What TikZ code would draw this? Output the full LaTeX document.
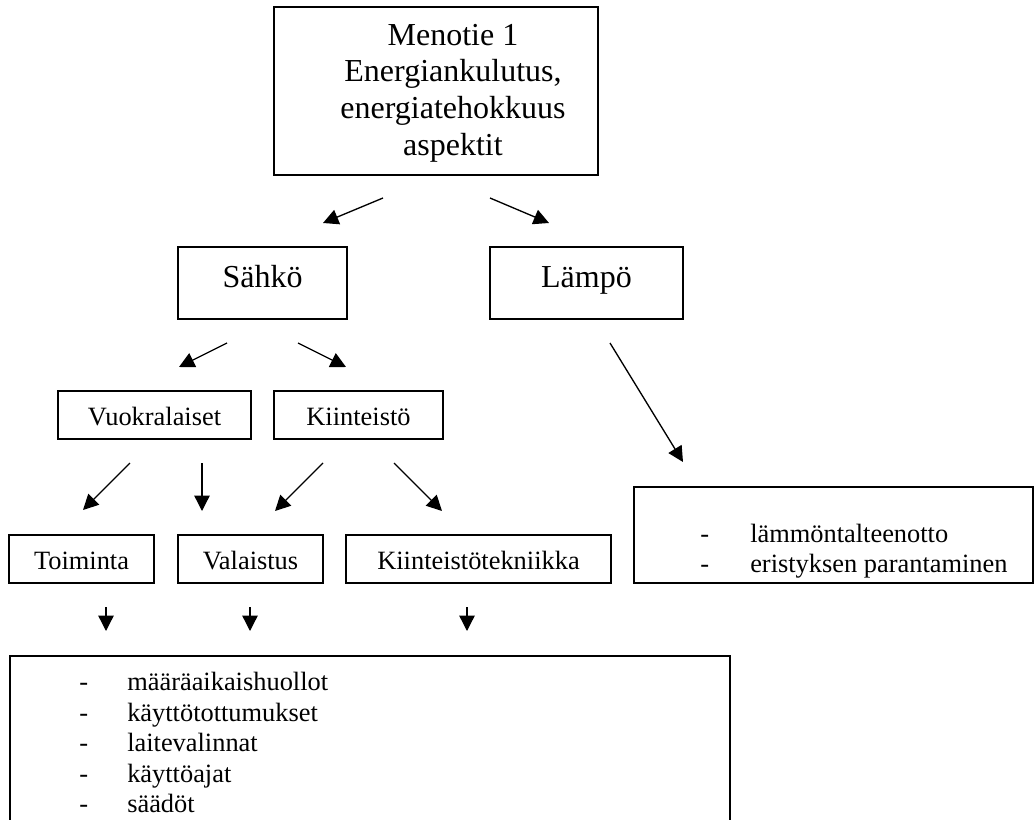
\documentclass[tikz,border=0pt]{standalone}
\usepackage{fontspec}
\setmainfont{Liberation Serif}
\usetikzlibrary{arrows.meta}
\begin{document}
\begin{tikzpicture}[x=0.75pt,y=-0.75pt,
  box/.style={draw,line width=1.1pt,inner sep=0pt,anchor=center},
  bigfont/.style={font=\fontsize{24}{27.5}\selectfont},
  smallfont/.style={font=\fontsize{19.8}{23}\selectfont},
  bigbox/.style={box,bigfont,text height=15pt,text depth=9pt},
  smallbox/.style={box,smallfont,text height=15pt,text depth=0pt},
  listitem/.style={smallfont,inner sep=0pt,anchor=base west},
  arr/.style={line width=1pt,-{Triangle[length=11.5pt,width=11.5pt]}}]
\useasboundingbox (0,0) rectangle (1036,820);
\clip (0,0) rectangle (1036,820);

% boxes
\node[box,minimum width=243pt,minimum height=126pt] (main) at (436,91) {};
\node[bigfont,align=center,inner sep=0pt] (maintext) at (453,93)
  {Menotie 1\\Energiankulutus,\\energiatehokkuus\\aspektit};
\node[bigbox,minimum width=126.75pt,minimum height=54pt] (sahko) at (262.5,283) {Sähkö};
\node[bigbox,minimum width=144.75pt,minimum height=54pt] (lampo) at (586.5,283) {Lämpö};
\node[smallbox,minimum width=144.75pt,minimum height=36pt] (vuokr) at (154.5,415) {Vuokralaiset};
\node[smallbox,minimum width=126.75pt,minimum height=36pt] (kiint) at (358.5,415) {Kiinteistö};
\node[smallbox,minimum width=108.75pt,minimum height=36pt] (toim) at (81.5,559) {Toiminta};
\node[smallbox,minimum width=108.75pt,minimum height=36pt] (vala) at (250.5,559) {Valaistus};
\node[smallbox,minimum width=198.75pt,minimum height=36pt] (ktek) at (478.5,559) {Kiinteistötekniikka};
\node[box,minimum width=299.25pt,minimum height=72pt] (lamplist) at (833.5,535) {};
\node[box,minimum width=540pt,minimum height=138pt] (bottom) at (370,748) {};

% list in heat box
\node[listitem] (ld1) at (700,542) {-};
\node[listitem] (lt1) at (750,542) {lämmöntalteenotto};
\node[listitem] (ld2) at (700,572) {-};
\node[listitem] (lt2) at (750,572) {eristyksen parantaminen};

% list in bottom box
\node[listitem] (bd1) at (79,690) {-};
\node[listitem] (bt1) at (127,690) {määräaikaishuollot};
\node[listitem] (bd2) at (79,721) {-};
\node[listitem] (bt2) at (127,721) {käyttötottumukset};
\node[listitem] (bd3) at (79,751) {-};
\node[listitem] (bt3) at (127,751) {laitevalinnat};
\node[listitem] (bd4) at (79,782) {-};
\node[listitem] (bt4) at (127,782) {käyttöajat};
\node[listitem] (bd5) at (79,812) {-};
\node[listitem] (bt5) at (127,812) {säädöt};

% arrow end points
\coordinate (s1) at (383,198); \coordinate (t1) at (323,223);
\coordinate (s2) at (490,198); \coordinate (t2) at (549,223);
\coordinate (s3) at (227,343); \coordinate (t3) at (179,367);
\coordinate (s4) at (298,343); \coordinate (t4) at (346,367);
\coordinate (s5) at (610,343); \coordinate (t5) at (683,462);
\coordinate (s6) at (130,463); \coordinate (t6) at (83,510);
\coordinate (s7) at (202,463); \coordinate (t7) at (202,511);
\coordinate (s8) at (323,463); \coordinate (t8) at (275,511);
\coordinate (s9) at (394,463); \coordinate (t9) at (442,511);
\coordinate (s10) at (106,607); \coordinate (t10) at (106,631);
\coordinate (s11) at (250,607); \coordinate (t11) at (250,631);
\coordinate (s12) at (467,607); \coordinate (t12) at (467,631);

\foreach \i in {1,...,12} {\draw[arr] (s\i) -- (t\i);}
\end{tikzpicture}
\end{document}
